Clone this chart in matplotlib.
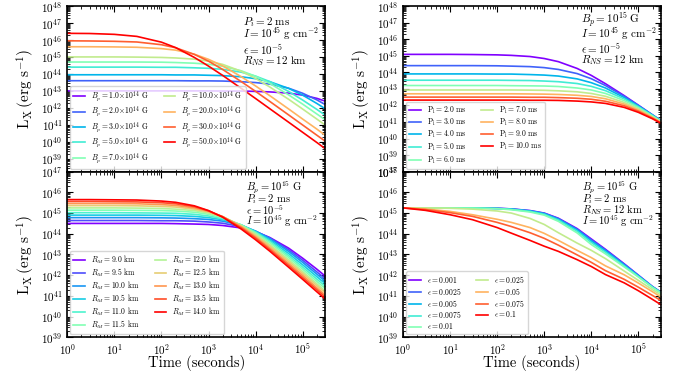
import numpy as np
import matplotlib
matplotlib.use("Agg")
import matplotlib.pyplot as plt
from matplotlib.ticker import LogLocator, NullFormatter

plt.rcParams.update({
    "font.family": "serif",
    "font.serif": ["cmr10", "DejaVu Serif"],
    "mathtext.fontset": "cm",
    "axes.formatter.use_mathtext": True,
    "axes.unicode_minus": False,
    "xtick.direction": "in",
    "ytick.direction": "in",
    "xtick.top": True,
    "ytick.right": True,
    "axes.linewidth": 1.2,
    "xtick.major.size": 4,
    "ytick.major.size": 4,
    "xtick.minor.size": 2,
    "ytick.minor.size": 2,
    "xtick.labelsize": 8,
    "ytick.labelsize": 8,
})

t_grid = [1, 3, 10, 30, 100, 200, 500, 1e3, 2e3, 5e3, 1e4, 2e4, 5e4, 1e5, 2e5, 3e5]

# --- panel 1: varying B_p (log10 L_X) ---
Bp_vals = [1.0, 2.0, 3.0, 5.0, 7.0, 10.0, 20.0, 30.0, 50.0]
logL_Bp = [
    [43.00, 43.00, 43.00, 43.00, 43.00, 43.00, 43.00, 43.00, 42.99, 42.99, 42.97, 42.94, 42.87, 42.75, 42.56, 42.40],
    [43.60, 43.60, 43.60, 43.60, 43.60, 43.60, 43.59, 43.59, 43.58, 43.54, 43.49, 43.40, 43.16, 42.86, 42.47, 42.20],
    [43.95, 43.95, 43.95, 43.95, 43.95, 43.94, 43.94, 43.92, 43.90, 43.83, 43.72, 43.54, 43.15, 42.75, 42.26, 41.95],
    [44.40, 44.40, 44.40, 44.40, 44.39, 44.39, 44.36, 44.33, 44.27, 44.10, 43.87, 43.55, 42.97, 42.46, 41.91, 41.57],
    [44.70, 44.70, 44.70, 44.70, 44.69, 44.67, 44.63, 44.57, 44.45, 44.18, 43.86, 43.44, 42.77, 42.22, 41.64, 41.30],
    [45.00, 45.00, 45.00, 44.99, 44.97, 44.94, 44.87, 44.75, 44.56, 44.15, 43.73, 43.23, 42.51, 41.93, 41.34, 40.99],
    [45.60, 45.60, 45.59, 45.57, 45.49, 45.40, 45.16, 44.86, 44.47, 43.83, 43.29, 42.72, 41.94, 41.34, 40.75, 40.39],
    [45.95, 45.94, 45.92, 45.88, 45.72, 45.54, 45.15, 44.75, 44.26, 43.54, 42.97, 42.38, 41.59, 40.99, 40.39, 40.04],
    [46.39, 46.38, 46.33, 46.21, 45.87, 45.55, 44.97, 44.46, 43.91, 43.14, 42.55, 41.95, 41.16, 40.56, 39.96, 39.60],
]

# --- panel 2: varying P_i ---
Pi_vals = [2.0, 3.0, 4.0, 5.0, 6.0, 7.0, 8.0, 9.0, 10.0]
logL_Pi = [
    [45.08, 45.08, 45.08, 45.07, 45.05, 45.02, 44.95, 44.83, 44.64, 44.23, 43.81, 43.31, 42.59, 42.01, 41.42, 41.07],
    [44.40, 44.40, 44.40, 44.40, 44.39, 44.37, 44.34, 44.28, 44.17, 43.92, 43.61, 43.20, 42.55, 42.00, 41.43, 41.09],
    [43.90, 43.90, 43.90, 43.90, 43.89, 43.89, 43.86, 43.83, 43.77, 43.60, 43.37, 43.05, 42.47, 41.96, 41.41, 41.07],
    [43.52, 43.52, 43.52, 43.52, 43.52, 43.51, 43.50, 43.47, 43.43, 43.32, 43.15, 42.89, 42.39, 41.92, 41.39, 41.06],
    [43.20, 43.20, 43.20, 43.20, 43.20, 43.19, 43.18, 43.17, 43.14, 43.05, 42.93, 42.72, 42.29, 41.86, 41.35, 41.03],
    [42.93, 42.93, 42.93, 42.93, 42.93, 42.93, 42.92, 42.91, 42.88, 42.82, 42.72, 42.55, 42.18, 41.79, 41.31, 41.01],
    [42.70, 42.70, 42.70, 42.70, 42.70, 42.70, 42.69, 42.68, 42.66, 42.61, 42.54, 42.40, 42.08, 41.72, 41.27, 40.98],
    [42.50, 42.50, 42.50, 42.50, 42.50, 42.50, 42.49, 42.49, 42.47, 42.43, 42.37, 42.25, 41.98, 41.65, 41.23, 40.95],
    [42.32, 42.32, 42.32, 42.32, 42.32, 42.32, 42.31, 42.31, 42.30, 42.26, 42.21, 42.12, 41.88, 41.58, 41.19, 40.92],
]

# --- panel 3: varying R_M ---
RM_vals = [9.0, 9.5, 10.0, 10.5, 11.0, 11.5, 12.0, 12.5, 13.0, 13.5, 14.0]
logL_RM = [
    [44.50, 44.50, 44.50, 44.50, 44.50, 44.49, 44.47, 44.45, 44.40, 44.28, 44.10, 43.82, 43.31, 42.82, 42.29, 41.96],
    [44.64, 44.64, 44.64, 44.64, 44.63, 44.63, 44.61, 44.57, 44.51, 44.34, 44.12, 43.80, 43.23, 42.72, 42.16, 41.83],
    [44.78, 44.78, 44.78, 44.78, 44.77, 44.76, 44.73, 44.69, 44.61, 44.40, 44.13, 43.77, 43.15, 42.62, 42.05, 41.71],
    [44.90, 44.90, 44.90, 44.90, 44.89, 44.88, 44.84, 44.78, 44.68, 44.42, 44.11, 43.70, 43.05, 42.50, 41.93, 41.59],
    [45.02, 45.02, 45.02, 45.01, 45.00, 44.99, 44.94, 44.86, 44.73, 44.43, 44.08, 43.64, 42.95, 42.39, 41.81, 41.47],
    [45.14, 45.14, 45.14, 45.13, 45.12, 45.10, 45.04, 44.94, 44.78, 44.42, 44.04, 43.57, 42.86, 42.29, 41.70, 41.36],
    [45.25, 45.25, 45.25, 45.24, 45.22, 45.19, 45.12, 45.00, 44.81, 44.40, 43.98, 43.48, 42.76, 42.18, 41.59, 41.24],
    [45.36, 45.36, 45.36, 45.35, 45.32, 45.29, 45.19, 45.05, 44.83, 44.37, 43.92, 43.41, 42.67, 42.09, 41.50, 41.15],
    [45.46, 45.46, 45.46, 45.45, 45.41, 45.37, 45.25, 45.09, 44.83, 44.33, 43.85, 43.32, 42.57, 41.99, 41.39, 41.04],
    [45.56, 45.56, 45.55, 45.54, 45.50, 45.45, 45.31, 45.11, 44.82, 44.28, 43.79, 43.24, 42.48, 41.89, 41.30, 40.95],
    [45.65, 45.65, 45.64, 45.63, 45.58, 45.52, 45.35, 45.12, 44.80, 44.22, 43.71, 43.16, 42.39, 41.80, 41.20, 40.85],
]

# --- panel 4: varying epsilon ---
eps_vals = ["0.001", "0.0025", "0.005", "0.0075", "0.01", "0.025", "0.05", "0.075", "0.1"]
logL_eps = [
    [45.25, 45.25, 45.25, 45.25, 45.23, 45.20, 45.12, 45.00, 44.75, 44.25, 43.75, 43.25, 42.55, 42.00, 41.45, 41.18],
    [45.25, 45.25, 45.25, 45.25, 45.23, 45.20, 45.11, 44.99, 44.73, 44.22, 43.71, 43.22, 42.53, 41.99, 41.44, 41.18],
    [45.25, 45.25, 45.25, 45.25, 45.22, 45.19, 45.10, 44.97, 44.70, 44.18, 43.65, 43.17, 42.49, 41.97, 41.43, 41.17],
    [45.25, 45.25, 45.25, 45.25, 45.22, 45.18, 45.08, 44.94, 44.66, 44.12, 43.58, 43.11, 42.45, 41.94, 41.42, 41.16],
    [45.25, 45.25, 45.25, 45.24, 45.21, 45.16, 45.05, 44.90, 44.60, 44.04, 43.48, 43.03, 42.40, 41.91, 41.40, 41.14],
    [45.25, 45.25, 45.23, 45.19, 45.10, 45.00, 44.74, 44.45, 44.05, 43.55, 43.20, 42.80, 42.20, 41.75, 41.30, 41.05],
    [45.25, 45.20, 45.08, 44.92, 44.70, 44.55, 44.30, 44.02, 43.68, 43.20, 42.85, 42.45, 42.02, 41.62, 41.20, 40.95],
    [45.25, 45.17, 45.02, 44.84, 44.55, 44.35, 44.05, 43.78, 43.45, 42.98, 42.62, 42.22, 41.80, 41.42, 41.02, 40.78],
    [45.25, 45.13, 44.92, 44.68, 44.30, 44.03, 43.68, 43.40, 43.15, 42.75, 42.42, 42.03, 41.63, 41.25, 40.83, 40.58],
]

# parameter notes (one per line) for each panel
note_Bp = [r"$P_i = 2\ \mathrm{ms}$", r"$I = 10^{45}\ \mathrm{g\ cm^{-2}}$",
           r"$\epsilon = 10^{-5}$", r"$R_{NS} = 12\ \mathrm{km}$"]
note_Pi = [r"$B_p = 10^{15}\ \mathrm{G}$", r"$I = 10^{45}\ \mathrm{g\ cm^{-2}}$",
           r"$\epsilon = 10^{-5}$", r"$R_{NS} = 12\ \mathrm{km}$"]
note_RM = [r"$B_p = 10^{15}\ \mathrm{G}$", r"$P_i = 2\ \mathrm{ms}$",
           r"$\epsilon = 10^{-5}$", r"$I = 10^{45}\ \mathrm{g\ cm^{-2}}$"]
note_eps = [r"$B_p = 10^{15}\ \mathrm{G}$", r"$P_i = 2\ \mathrm{ms}$",
            r"$R_{NS} = 12\ \mathrm{km}$", r"$I = 10^{45}\ \mathrm{g\ cm^{-2}}$"]


def draw_panel(ax, curves, labels, ylim, note, note_x, note_y, note_fs):
    colors = plt.cm.rainbow(np.linspace(0, 1, len(curves)))
    for row, lab, c in zip(curves, labels, colors):
        ax.plot(t_grid, 10 ** np.array(row), color=c, lw=1.2, label=lab)
    ax.set_xscale("log")
    ax.set_yscale("log")
    ax.set_xlim(1, 3e5)
    ax.set_ylim(*ylim)
    ax.yaxis.set_major_locator(LogLocator(base=10, numticks=20))
    ax.yaxis.set_minor_locator(LogLocator(base=10, subs=np.arange(2, 10), numticks=20))
    ax.yaxis.set_minor_formatter(NullFormatter())
    ax.set_ylabel(r"$\mathrm{L_X}\,(\mathrm{erg\ s^{-1}})$", fontsize=11, labelpad=3)
    for txt, yy in zip(note, note_y):
        ax.text(note_x, yy, txt, transform=ax.transAxes, ha="left", va="center",
                fontsize=note_fs)
    ax.legend(loc="lower left", ncol=2, fontsize=5.5, handlelength=1.5,
              labelspacing=0.1, columnspacing=2.0, borderaxespad=0.4)


fig, axes = plt.subplots(2, 2, figsize=(6.75, 3.75), dpi=100, sharex="col")
fig.subplots_adjust(left=0.0997, right=0.979, top=0.984, bottom=0.1005,
                    hspace=0, wspace=0.302)

draw_panel(axes[0, 0], logL_Bp,
           [r"$B_p = %.1f\!\times\!10^{14}$ G" % b for b in Bp_vals],
           (1.75e38, 1e48), note_Bp, 0.68, [0.906, 0.836, 0.735, 0.665], 8)
draw_panel(axes[0, 1], logL_Pi,
           [r"$\mathrm{P_i = %.1f\ ms}$" % p for p in Pi_vals],
           (1e38, 1e48), note_Pi, 0.69, [0.912, 0.836, 0.746, 0.671], 8)
draw_panel(axes[1, 0], logL_RM,
           [r"$R_M = %.1f$ km" % r for r in RM_vals],
           (1e39, 1e47), note_RM, 0.695, [0.899, 0.832, 0.769, 0.70], 7.6)
draw_panel(axes[1, 1], logL_eps,
           [r"$\epsilon = %s$" % e for e in eps_vals],
           (1e39, 1e47), note_eps, 0.695, [0.899, 0.832, 0.769, 0.70], 7.6)

for ax in axes[1]:
    ax.set_xlabel("Time (seconds)", fontsize=10.5, labelpad=-1.5)
    ax.xaxis.set_major_locator(LogLocator(base=10, numticks=10))
for ax in axes[0]:
    ax.tick_params(labelbottom=False)

fig.savefig("out.png", dpi=100)
